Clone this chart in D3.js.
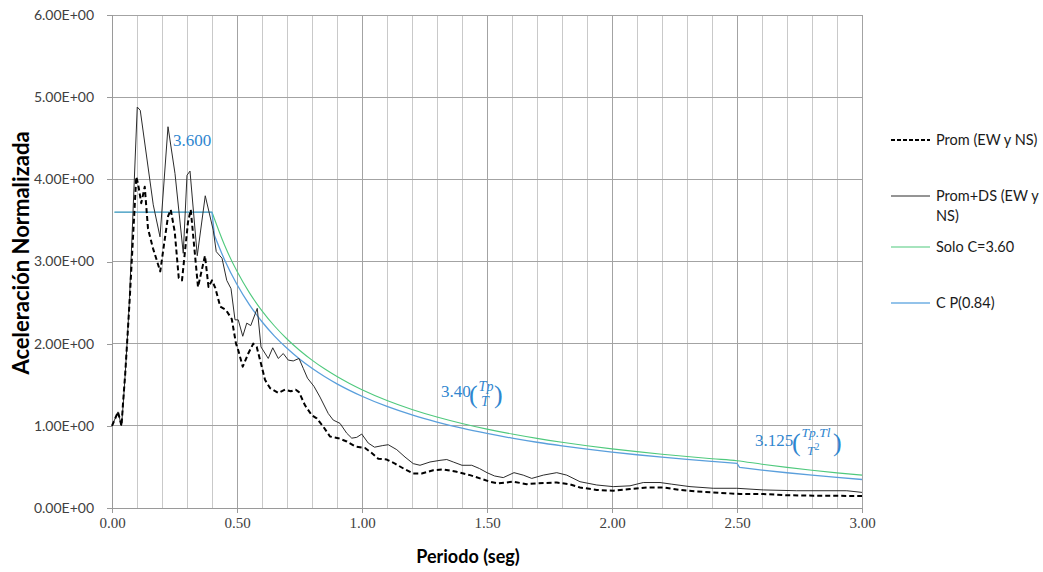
<!DOCTYPE html>
<html>
<head>
<meta charset="utf-8">
<script src="https://cdn.jsdelivr.net/npm/d3@7"></script>
<style>
  html, body { margin: 0; padding: 0; background: #fff; }
  svg { display: block; }
</style>
</head>
<body>
<svg id="chart" width="1043" height="572"></svg>
<script>
// Espectro promedio (EW y NS): periodo (s) y aceleración normalizada
const periodProm = [0.000,0.024,0.038,0.044,0.053,0.061,0.071,0.097,0.104,0.117,0.131,0.144,0.164,0.193,0.224,0.235,0.251,0.267,0.280,0.304,0.315,0.344,0.372,0.386,0.400,0.413,0.433,0.456,0.479,0.496,0.505,0.523,0.545,0.565,0.579,0.599,0.612,0.632,0.665,0.692,0.715,0.735,0.748,0.772,0.799,0.819,0.845,0.872,0.905,0.939,0.972,1.012,1.039,1.065,1.099,1.132,1.172,1.205,1.239,1.285,1.325,1.379,1.432,1.472,1.512,1.545,1.605,1.659,1.699,1.779,1.830,1.872,1.939,2.005,2.072,2.139,2.205,2.272,2.339,2.405,2.512,2.605,2.699,2.805,3.000];
const accelProm  = [1.00,1.17,1.00,1.27,1.64,2.04,2.55,4.03,3.95,3.71,3.91,3.40,3.16,2.88,3.55,3.63,3.36,2.80,2.77,3.48,3.63,2.69,3.07,2.69,2.77,2.68,2.45,2.41,2.30,2.00,1.92,1.72,1.88,2.00,1.96,1.72,1.56,1.46,1.40,1.44,1.42,1.44,1.41,1.25,1.13,1.09,0.99,0.87,0.85,0.81,0.75,0.73,0.67,0.60,0.59,0.54,0.47,0.42,0.42,0.46,0.47,0.44,0.40,0.36,0.32,0.30,0.32,0.29,0.30,0.31,0.29,0.25,0.22,0.21,0.23,0.25,0.25,0.22,0.20,0.19,0.17,0.17,0.155,0.15,0.146];

// Espectro promedio + desviación estándar (EW y NS)
const periodPromDS = [0.000,0.024,0.038,0.045,0.053,0.061,0.070,0.101,0.113,0.165,0.192,0.224,0.252,0.285,0.300,0.312,0.341,0.373,0.389,0.405,0.417,0.440,0.459,0.476,0.492,0.505,0.523,0.539,0.555,0.581,0.596,0.625,0.643,0.665,0.685,0.705,0.725,0.748,0.765,0.782,0.808,0.832,0.865,0.885,0.912,0.939,0.959,0.979,0.999,1.025,1.050,1.083,1.105,1.139,1.172,1.205,1.232,1.272,1.312,1.339,1.365,1.400,1.439,1.470,1.500,1.530,1.565,1.608,1.645,1.679,1.725,1.779,1.819,1.872,1.939,2.005,2.072,2.125,2.192,2.239,2.312,2.405,2.499,2.605,2.739,2.939,3.000];
const accelPromDS  = [1.00,1.17,1.00,1.27,1.64,2.04,2.55,4.88,4.84,3.69,3.30,4.64,4.07,3.10,4.05,4.10,3.07,3.80,3.59,3.38,3.12,3.04,2.77,2.67,2.29,2.29,2.09,2.25,2.22,2.43,1.96,1.82,1.95,1.82,1.88,1.80,1.79,1.82,1.70,1.58,1.48,1.35,1.15,1.07,1.03,0.91,0.85,0.86,0.90,0.79,0.74,0.76,0.77,0.71,0.62,0.54,0.52,0.56,0.58,0.59,0.56,0.52,0.52,0.48,0.43,0.39,0.37,0.43,0.40,0.36,0.40,0.43,0.40,0.32,0.28,0.26,0.27,0.31,0.31,0.29,0.26,0.24,0.24,0.22,0.21,0.21,0.19];

// Espectro de diseño, solo C = 3.60 (meseta hasta Tp = 0.40 s)
const periodSolo = [0.01,0.40,0.45,0.50,0.55,0.60,0.65,0.70,0.75,0.80,0.85,0.90,0.95,1.00,1.10,1.20,1.30,1.40,1.50,1.60,1.70,1.80,1.90,2.00,2.10,2.20,2.30,2.40,2.50,2.60,2.70,2.80,2.90,3.00];
const accelSolo  = [3.600,3.600,3.200,2.880,2.618,2.400,2.215,2.057,1.920,1.800,1.694,1.600,1.516,1.440,1.309,1.200,1.108,1.029,0.960,0.900,0.847,0.800,0.758,0.720,0.686,0.655,0.626,0.600,0.576,0.533,0.494,0.459,0.428,0.400];

// Espectro de diseño, C P(0.84) (saltos en Tp = 0.40 s y Tl = 2.50 s)
const periodCP = [0.01,0.40,0.41,0.45,0.50,0.55,0.60,0.65,0.70,0.75,0.80,0.85,0.90,0.95,1.00,1.10,1.20,1.30,1.40,1.50,1.60,1.70,1.80,1.90,2.00,2.10,2.20,2.30,2.40,2.50,2.51,2.60,2.70,2.80,2.90,3.00];
const accelCP  = [3.600,3.600,3.317,3.022,2.720,2.473,2.267,2.092,1.943,1.813,1.700,1.600,1.511,1.432,1.360,1.236,1.133,1.046,0.971,0.907,0.850,0.800,0.756,0.716,0.680,0.648,0.618,0.591,0.567,0.544,0.496,0.462,0.429,0.399,0.372,0.347];

const yTicks = [0, 1, 2, 3, 4, 5, 6];
const xTicks = [0, 0.5, 1.0, 1.5, 2.0, 2.5, 3.0];
const xMinorTicks = d3.range(0, 31).map(i => i / 10);

const legendLabels = [["Prom (EW y NS)"], ["Prom+DS (EW y", "NS)"], ["Solo C=3.60"], ["C P(0.84)"]];

const sans = "Lato, 'Open Sans', sans-serif";
const serif = "'Liberation Serif', 'DejaVu Serif', serif";
const labelBlue = "#2f86cf";

const svg = d3.select("#chart");
const plot = { left: 112, right: 862, top: 15, bottom: 508 };

const x = d3.scaleLinear().domain([0, 3]).range([plot.left, plot.right]);
const y = d3.scaleLinear().domain([0, 6]).range([plot.bottom, plot.top]);

// vertical grid: light every 0.1 s, darker every 0.5 s
const grid = svg.append("g").attr("shape-rendering", "crispEdges");
grid.selectAll("line.vminor")
  .data(xMinorTicks.filter(t => Math.abs(t * 2 - Math.round(t * 2)) > 1e-6))
  .join("line")
  .attr("x1", d => x(d)).attr("x2", d => x(d))
  .attr("y1", plot.top).attr("y2", plot.bottom)
  .attr("stroke", "#c9c9c9").attr("stroke-width", 1);
grid.selectAll("line.vmajor")
  .data(xTicks.filter(t => t > 0))
  .join("line")
  .attr("x1", d => x(d)).attr("x2", d => x(d))
  .attr("y1", plot.top).attr("y2", plot.bottom)
  .attr("stroke", "#a3a3a3").attr("stroke-width", 1);
grid.selectAll("line.h")
  .data(yTicks.filter(t => t > 0))
  .join("line")
  .attr("x1", plot.left).attr("x2", plot.right)
  .attr("y1", d => y(d)).attr("y2", d => y(d))
  .attr("stroke", "#a3a3a3").attr("stroke-width", 1);

// axes
const yAxis = d3.axisLeft(y).tickValues(yTicks).tickSize(5).tickPadding(13)
  .tickFormat(d => d.toFixed(2) + "E+00");
const gy = svg.append("g").attr("transform", `translate(${plot.left},0)`).call(yAxis);
gy.selectAll("path, line").attr("stroke", "#9a9a9a").attr("shape-rendering", "crispEdges");
gy.selectAll("text").attr("font-family", sans).attr("font-size", 14).attr("fill", "#404040");

const xAxis = d3.axisBottom(x).tickValues(xTicks).tickSize(5).tickPadding(4)
  .tickFormat(d => d.toFixed(2));
const gx = svg.append("g").attr("transform", `translate(0,${plot.bottom})`).call(xAxis);
gx.selectAll("path, line").attr("stroke", "#9a9a9a").attr("shape-rendering", "crispEdges");
gx.selectAll("text").attr("font-family", serif).attr("font-size", 15).attr("fill", "#404040");

// axis titles
svg.append("text")
  .attr("x", 468).attr("y", 563)
  .attr("text-anchor", "middle")
  .attr("font-family", sans).attr("font-weight", "bold").attr("font-size", 18)
  .attr("fill", "#000").text("Periodo (seg)");
svg.append("text")
  .attr("transform", "translate(29,253) rotate(-90)")
  .attr("text-anchor", "middle")
  .attr("font-family", sans).attr("font-weight", "bold").attr("font-size", 22)
  .attr("fill", "#000").text("Aceleración Normalizada");

// series: design spectra are drawn piecewise so the plateau corner and the
// jumps at Tp and Tl stay sharp while the decaying branches stay smooth
const linearGen = d3.line().x(d => x(d[0])).y(d => y(d[1]));
const smoothGen = d3.line().x(d => x(d[0])).y(d => y(d[1])).curve(d3.curveMonotoneX);

function piecewisePath(pts, breaks) {
  // breaks: indices where a new piece begins (pieces share the boundary point)
  const cuts = [0, ...breaks, pts.length - 1];
  let d = "";
  for (let k = 0; k < cuts.length - 1; k++) {
    const piece = pts.slice(cuts[k], cuts[k + 1] + 1);
    const flat = piece.every(p => p[1] === piece[0][1]);
    const seg = (piece.length <= 2 || flat ? linearGen : smoothGen)(piece);
    d += k === 0 ? seg : "L" + seg.slice(1);
  }
  return d;
}

const series = [
  { t: periodSolo, a: accelSolo, breaks: [1], stroke: "#4fc97d", width: 1.1, dash: null },
  { t: periodCP, a: accelCP, breaks: [1, 2, 29, 30], stroke: "#5a9fdc", width: 1.3, dash: null },
  { t: periodPromDS, a: accelPromDS, breaks: null, stroke: "#2b2b2b", width: 1, dash: null },
  { t: periodProm, a: accelProm, breaks: null, stroke: "#000", width: 2, dash: "5,3" }
];
series.forEach(s => {
  const pts = s.t.map((t, i) => [t, s.a[i]]);
  svg.append("path")
    .attr("d", s.breaks ? piecewisePath(pts, s.breaks) : linearGen(pts))
    .attr("fill", "none")
    .attr("stroke", s.stroke)
    .attr("stroke-width", s.width)
    .attr("stroke-dasharray", s.dash)
    .attr("stroke-linejoin", "round");
});

// legend
const legendY = [140, 196, 247, 303];
const legendStyle = [
  { stroke: "#000", width: 2, dash: "4,2" },
  { stroke: "#2b2b2b", width: 1, dash: null },
  { stroke: "#4fc97d", width: 1.2, dash: null },
  { stroke: "#93c3ea", width: 2, dash: null }
];
const lg = svg.append("g");
legendLabels.forEach((lines, i) => {
  lg.append("line")
    .attr("x1", 891).attr("x2", 930)
    .attr("y1", legendY[i]).attr("y2", legendY[i])
    .attr("stroke", legendStyle[i].stroke)
    .attr("stroke-width", legendStyle[i].width)
    .attr("stroke-dasharray", legendStyle[i].dash);
  const t = lg.append("text")
    .attr("font-family", sans).attr("font-size", 14.5).attr("fill", "#1a1a1a");
  lines.forEach((ln, j) => {
    t.append("tspan").attr("x", 936).attr("y", legendY[i] + 5 + j * 20).text(ln);
  });
});

// design-spectrum annotations
const ann = svg.append("g").attr("fill", labelBlue).attr("font-family", serif);
ann.append("text").attr("x", 173).attr("y", 146).attr("font-size", 17).text("3.600");

// 3.40(Tp/T)
ann.append("text").attr("x", 441).attr("y", 397).attr("font-size", 17).text("3.40");
ann.append("text").attr("x", 469).attr("y", 403).attr("font-size", 26).text("(");
ann.append("text").attr("x", 486).attr("y", 391).attr("font-size", 14).attr("font-style", "italic").attr("text-anchor", "middle").text("Tp");
ann.append("text").attr("x", 485).attr("y", 406).attr("font-size", 14).attr("font-style", "italic").attr("text-anchor", "middle").text("T");
ann.append("text").attr("x", 494).attr("y", 403).attr("font-size", 26).text(")");

// 3.125(Tp.Tl/T²)
ann.append("text").attr("x", 755).attr("y", 446).attr("font-size", 17).text("3.125");
ann.append("text").attr("x", 792).attr("y", 451).attr("font-size", 26).text("(");
ann.append("text").attr("x", 816).attr("y", 437).attr("font-size", 13.5).attr("font-style", "italic").attr("text-anchor", "middle").text("Tp.Tl");
const den = ann.append("text").attr("x", 807).attr("y", 455).attr("font-size", 13.5);
den.append("tspan").attr("font-style", "italic").text("T");
den.append("tspan").attr("font-size", 10).attr("dy", -5).text("2");
ann.append("text").attr("x", 833).attr("y", 451).attr("font-size", 26).text(")");
</script>
</body>
</html>
